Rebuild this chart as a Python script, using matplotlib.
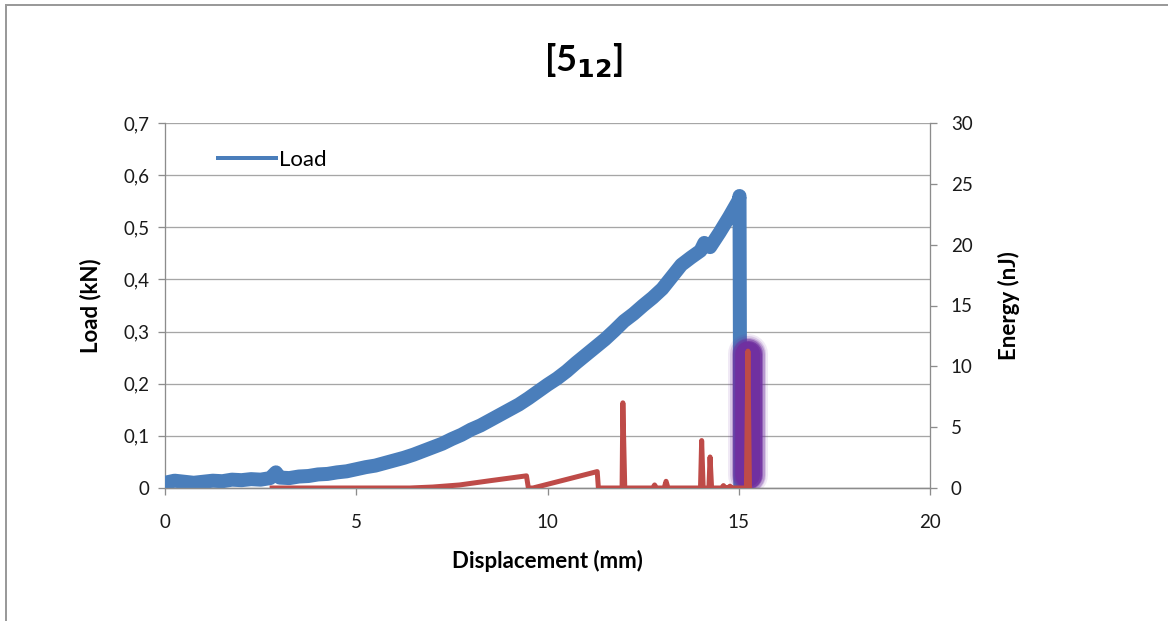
import matplotlib
matplotlib.use("Agg")
import matplotlib.pyplot as plt
from matplotlib.lines import Line2D
from matplotlib.ticker import FuncFormatter

plt.rcParams['font.family'] = ['Lato', 'DejaVu Sans']

# Load curve (kN) against displacement (mm)
load_disp = [0.0, 0.25, 0.5, 0.75, 1.0, 1.25, 1.5, 1.75, 2.0, 2.25, 2.5, 2.75, 2.9, 3.0,
             3.25, 3.5, 3.75, 4.0, 4.25, 4.5, 4.75, 5.0, 5.25, 5.5, 5.75, 6.0, 6.25, 6.5,
             6.75, 7.0, 7.25, 7.5, 7.75, 8.0, 8.25, 8.5, 8.75, 9.0, 9.25, 9.5, 9.75, 10.0,
             10.25, 10.5, 10.75, 11.0, 11.25, 11.5, 11.75, 12.0, 12.25, 12.5, 12.75, 13.0,
             13.25, 13.5, 13.75, 14.0, 14.1, 14.25, 14.5, 14.75, 15.0, 15.02, 15.04]
load_kn = [0.010, 0.014, 0.012, 0.010, 0.012, 0.014, 0.013, 0.016, 0.015, 0.017, 0.016,
           0.019, 0.030, 0.020, 0.019, 0.022, 0.023, 0.026, 0.027, 0.030, 0.032, 0.036,
           0.040, 0.043, 0.048, 0.053, 0.058, 0.064, 0.071, 0.078, 0.085, 0.094, 0.102,
           0.112, 0.120, 0.130, 0.140, 0.150, 0.160, 0.172, 0.185, 0.198, 0.210, 0.224,
           0.240, 0.255, 0.270, 0.285, 0.302, 0.320, 0.334, 0.350, 0.365, 0.382, 0.405,
           0.428, 0.442, 0.455, 0.470, 0.462, 0.490, 0.520, 0.552, 0.560, 0.0]

# Energy (nJ) against displacement (mm)
energy_disp = [2.8, 6.4, 7.0, 7.7, 8.5, 9.45, 9.5, 9.62, 11.3, 11.33, 11.95, 11.97, 12.02,
               12.75, 12.8, 12.85, 13.05, 13.1, 13.15, 14.0, 14.03, 14.07, 14.22, 14.25,
               14.29, 14.55, 14.6, 14.65, 14.72, 14.77, 14.82, 15.2, 15.24, 15.28]
energy_nj = [0.0, 0.0, 0.08, 0.25, 0.6, 1.0, 0.0, 0.0, 1.35, 0.0, 0.0, 7.0, 0.0,
             0.0, 0.25, 0.0, 0.0, 0.55, 0.0, 0.0, 3.9, 0.0, 0.0, 2.55,
             0.0, 0.0, 0.2, 0.0, 0.0, 0.15, 0.0, 0.0, 11.25, 0.0]

x_ticks = [0, 5, 10, 15, 20]
load_ticks = [0, 0.1, 0.2, 0.3, 0.4, 0.5, 0.6, 0.7]
energy_ticks = [0, 5, 10, 15, 20, 25, 30]

# failure-peak highlight span (nJ) around the largest energy release
peak_x = energy_disp[energy_nj.index(max(energy_nj))]
glow_span = (1.1, 11.0)

BLUE = '#4A7EBB'
RED = '#BE4B48'
PURPLE = '#7030A0'
GRID = '#A6A6A6'
SPINE = '#8C8C8C'
PX = 0.72  # points per pixel at 100 dpi

fig = plt.figure(figsize=(11.68, 6.21), dpi=100)
ax = fig.add_axes([165 / 1168, 1 - 488 / 621, 765 / 1168, 365 / 621])
ax2 = ax.twinx()

def comma(v, _):
    return f"{v:g}".replace('.', ',')

ax.plot(load_disp, load_kn, color=BLUE, lw=14 * PX, solid_joinstyle='round',
        solid_capstyle='round', label='Load', zorder=3)
ax.set_xlim(0, 20)
ax.set_ylim(0, 0.7)
ax.set_xticks(x_ticks)
ax.set_yticks(load_ticks)
ax.yaxis.set_major_formatter(FuncFormatter(comma))
ax.grid(axis='y', color=GRID, lw=1.3 * PX)
ax.set_axisbelow(True)

# purple glow around the final energy spike
for w, a in [(40, 0.10), (36, 0.18), (33, 0.3), (30, 0.5), (27, 0.8), (24, 1.0)]:
    ax2.plot([peak_x, peak_x], glow_span, color=PURPLE, lw=w * PX, alpha=a,
             solid_capstyle='round', zorder=2)
ax2.plot(energy_disp, energy_nj, color=RED, lw=5 * PX, solid_joinstyle='round', zorder=3)
ax2.set_ylim(0, 30)
ax2.set_yticks(energy_ticks)

for a in (ax, ax2):
    a.spines['top'].set_visible(False)
    for s in ('left', 'right', 'bottom'):
        a.spines[s].set_color(SPINE)
        a.spines[s].set_linewidth(1.3 * PX)
    a.tick_params(colors=SPINE, labelcolor='#1a1a1a', length=5, width=1.3 * PX,
                  labelsize=13.5, direction='out')
ax2.spines['left'].set_visible(False)
ax.spines['right'].set_visible(False)
ax.tick_params(axis='x', pad=14)
ax.tick_params(axis='y', pad=6)
ax2.tick_params(axis='y', pad=10)

ax.set_xlabel('Displacement (mm)', fontsize=16, fontweight='bold', labelpad=13)
ax.set_ylabel('Load (kN)', fontsize=16, fontweight='bold', labelpad=16)
ax2.set_ylabel('Energy (nJ)', fontsize=16, fontweight='bold', labelpad=18)

ax.legend(handles=[Line2D([], [], color=BLUE, lw=4 * PX)], labels=['Load'],
          loc='center left', bbox_to_anchor=(218 / 1168, 1 - 160 / 621),
          bbox_transform=fig.transFigure, frameon=False, fontsize=16,
          handlelength=2.6, handletextpad=0.15, borderpad=0, borderaxespad=0)

fig.text(584 / 1168, 1 - 60 / 621, r'[5$_{\mathbf{12}}$]', ha='center', va='center',
         fontsize=26, fontweight='bold')

# outer chart border
fig.add_artist(Line2D([6 / 1168, 1], [1 - 5 / 621, 1 - 5 / 621], color='#9A9A9A',
                      lw=2 * PX, transform=fig.transFigure))
fig.add_artist(Line2D([6 / 1168, 6 / 1168], [0, 1 - 5 / 621], color='#9A9A9A',
                      lw=2 * PX, transform=fig.transFigure))

fig.savefig('out.png', dpi=100)
